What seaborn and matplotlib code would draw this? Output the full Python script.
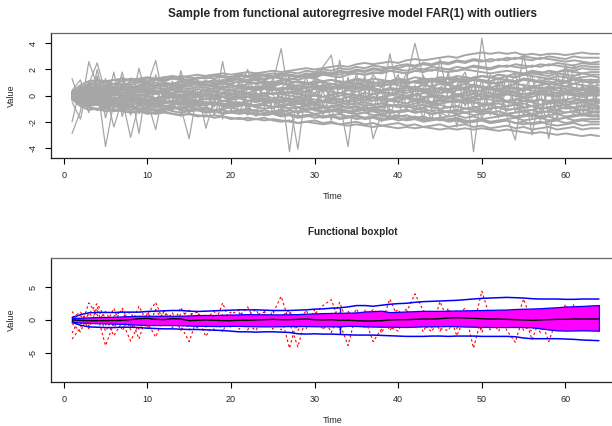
import numpy as np
import pandas as pd
import matplotlib
matplotlib.use("Agg")
import matplotlib.pyplot as plt
import seaborn as sns

TIME = list(range(1, 65))

# regular curves of the FAR(1) sample (values read/estimated from the picture)
C01 = [0.3,0.8,1.1,1.2,1.1,1.2,1.3,1.2,1.3,1.4,1.3,1.4,1.5,1.4,1.5,1.6,1.5,1.6,1.7,1.6,1.7,1.8,1.7,1.8,1.9,1.8,1.9,2.0,2.1,2.0,2.1,2.2,2.3,2.2,2.4,2.5,2.4,2.5,2.6,2.5,2.7,2.8,2.7,2.8,2.9,3.0,2.9,3.1,3.2,3.3,3.2,3.3,3.2,3.3,3.1,3.2,3.1,3.2,3.2,3.1,3.2,3.3,3.2,3.2]
C02 = [-0.3,-0.8,-1.1,-1.0,-1.2,-1.1,-1.2,-1.3,-1.2,-1.3,-1.4,-1.3,-1.4,-1.5,-1.4,-1.5,-1.6,-1.5,-1.6,-1.7,-1.8,-1.7,-1.8,-1.9,-1.8,-1.9,-2.0,-2.1,-2.0,-2.1,-2.2,-2.1,-2.2,-2.3,-2.2,-2.3,-2.4,-2.3,-2.4,-2.5,-2.4,-2.5,-2.4,-2.5,-2.6,-2.5,-2.6,-2.5,-2.6,-2.5,-2.6,-2.7,-2.6,-2.7,-2.8,-2.9,-2.8,-2.9,-3.0,-2.9,-3.0,-3.1,-3.0,-3.1]
C03 = [0.2,0.5,0.7,0.6,0.8,0.9,0.8,1.0,1.1,1.0,1.2,1.1,1.3,1.2,1.1,1.3,1.4,1.3,1.5,1.4,1.6,1.5,1.4,1.6,1.7,1.6,1.8,1.7,1.9,1.8,2.0,1.9,2.1,2.0,2.2,2.1,2.3,2.2,2.1,2.3,2.4,2.3,2.5,2.4,2.6,2.5,2.7,2.6,2.8,2.7,2.6,2.8,2.7,2.9,2.8,2.7,2.9,2.8,2.7,2.6,2.7,2.6,2.5,2.6]
C04 = [0.1,0.3,0.5,0.4,0.6,0.5,0.7,0.6,0.8,0.9,0.8,0.7,0.9,1.0,0.9,1.1,1.0,1.2,1.1,1.3,1.2,1.1,1.3,1.2,1.4,1.3,1.2,1.4,1.5,1.4,1.6,1.5,1.4,1.6,1.7,1.6,1.8,1.7,1.9,1.8,1.7,1.9,2.0,1.9,2.1,2.0,1.9,2.1,2.2,2.1,2.0,2.2,2.3,2.2,2.1,2.3,2.2,2.4,2.3,2.2,2.1,2.3,2.2,2.2]
C05 = [0.0,0.4,0.8,0.9,1.0,0.9,1.1,1.2,1.1,1.3,1.2,1.4,1.3,1.5,1.4,1.3,1.5,1.6,1.5,1.4,1.6,1.5,1.7,1.6,1.5,1.7,1.6,1.5,1.6,1.7,1.8,1.7,1.6,1.8,1.7,1.6,1.7,1.8,1.9,1.8,1.7,1.9,1.8,2.0,1.9,1.8,1.9,2.0,1.9,1.8,1.7,1.8,1.9,1.8,1.7,1.9,1.8,1.7,1.8,1.9,1.8,1.7,1.8,1.8]
C06 = [0.2,0.1,0.3,0.2,0.4,0.3,0.5,0.4,0.3,0.5,0.6,0.5,0.7,0.6,0.5,0.7,0.8,0.7,0.9,0.8,0.7,0.9,1.0,0.9,0.8,1.0,0.9,1.1,1.0,0.9,1.1,1.2,1.1,1.0,1.2,1.1,1.3,1.2,1.1,1.3,1.2,1.4,1.3,1.2,1.4,1.3,1.5,1.4,1.3,1.5,1.4,1.3,1.5,1.4,1.6,1.5,1.4,1.3,1.5,1.4,1.3,1.4,1.5,1.4]
C07 = [-0.1,0.3,0.6,0.8,0.7,0.9,0.8,0.6,0.7,0.9,1.0,0.8,0.9,1.1,1.2,1.0,1.1,0.9,1.0,1.2,1.3,1.1,1.2,1.0,0.9,1.1,1.3,1.2,1.4,1.3,1.1,1.2,1.0,1.1,1.3,1.2,1.0,0.9,1.1,1.2,1.0,1.1,1.3,1.2,1.4,1.3,1.1,1.0,1.2,1.1,0.9,1.0,1.2,1.1,1.3,1.2,1.0,1.1,0.9,1.0,1.2,1.1,1.0,1.1]
C08 = [0.1,-0.1,0.2,0.1,0.3,0.2,0.1,0.3,0.4,0.3,0.2,0.4,0.5,0.4,0.3,0.5,0.4,0.6,0.5,0.4,0.6,0.5,0.7,0.6,0.5,0.4,0.6,0.5,0.7,0.6,0.8,0.7,0.6,0.5,0.7,0.6,0.8,0.7,0.9,0.8,0.7,0.6,0.8,0.7,0.9,0.8,0.7,0.9,0.8,0.7,0.6,0.8,0.7,0.9,0.8,0.7,0.8,0.9,0.8,0.7,0.9,0.8,0.7,0.8]
C09 = [-0.2,-0.4,-0.5,-0.4,-0.6,-0.5,-0.4,-0.3,-0.5,-0.4,-0.2,-0.3,-0.1,-0.2,0.0,-0.1,0.1,0.0,-0.1,0.1,0.2,0.1,0.0,0.2,0.1,0.3,0.2,0.1,0.3,0.2,0.4,0.3,0.2,0.4,0.3,0.5,0.4,0.3,0.5,0.4,0.6,0.5,0.4,0.6,0.5,0.4,0.6,0.5,0.7,0.6,0.5,0.4,0.6,0.5,0.4,0.6,0.5,0.7,0.6,0.5,0.4,0.6,0.5,0.5]
C10 = [0.0,0.1,0.0,-0.1,0.1,0.0,0.2,0.1,0.0,0.1,0.3,0.2,0.1,0.0,0.2,0.1,0.0,-0.1,0.1,0.2,0.0,0.1,-0.1,0.0,0.2,0.1,0.3,0.2,0.0,0.1,-0.1,0.0,0.2,0.1,0.0,-0.1,0.1,0.2,0.1,0.3,0.2,0.4,0.3,0.2,0.4,0.3,0.1,0.2,0.4,0.3,0.2,0.1,0.3,0.2,0.1,0.2,0.4,0.3,0.2,0.3,0.4,0.2,0.3,0.3]
C11 = [-0.1,0.0,-0.2,-0.1,0.0,-0.2,-0.3,-0.2,-0.1,-0.3,-0.2,-0.1,0.0,-0.1,-0.2,0.0,0.1,0.0,-0.1,-0.2,0.0,-0.1,0.1,0.0,-0.2,-0.1,-0.3,-0.2,-0.1,0.0,-0.1,-0.2,0.0,0.1,0.0,-0.1,-0.2,-0.1,0.0,0.1,-0.1,0.0,0.2,0.1,0.0,-0.1,0.1,0.0,0.2,0.1,-0.1,0.0,0.1,0.0,-0.1,0.1,0.2,0.1,0.0,0.2,0.1,0.0,0.1,0.1]
C12 = [0.2,0.3,0.1,0.2,0.0,0.1,-0.1,0.0,0.1,-0.1,-0.2,0.0,-0.1,-0.3,-0.2,-0.1,-0.3,-0.2,-0.4,-0.3,-0.2,-0.4,-0.3,-0.5,-0.4,-0.3,-0.2,-0.4,-0.3,-0.5,-0.4,-0.3,-0.5,-0.4,-0.2,-0.3,-0.4,-0.2,-0.3,-0.1,-0.2,-0.4,-0.3,-0.5,-0.4,-0.2,-0.3,-0.4,-0.2,-0.3,-0.1,-0.2,-0.4,-0.3,-0.2,-0.4,-0.3,-0.5,-0.4,-0.3,-0.2,-0.4,-0.3,-0.3]
C13 = [0.3,0.5,0.4,0.6,0.5,0.4,0.5,0.3,0.4,0.2,0.3,0.1,0.2,0.0,0.1,-0.1,0.0,-0.2,-0.1,-0.3,-0.2,-0.4,-0.3,-0.2,-0.4,-0.3,-0.5,-0.4,-0.6,-0.5,-0.4,-0.6,-0.5,-0.7,-0.6,-0.5,-0.7,-0.6,-0.4,-0.5,-0.6,-0.4,-0.5,-0.7,-0.6,-0.5,-0.4,-0.6,-0.5,-0.7,-0.6,-0.4,-0.5,-0.6,-0.4,-0.5,-0.7,-0.6,-0.5,-0.4,-0.6,-0.5,-0.4,-0.5]
C14 = [-0.1,-0.3,-0.2,-0.4,-0.3,-0.5,-0.4,-0.3,-0.5,-0.6,-0.5,-0.4,-0.6,-0.5,-0.7,-0.6,-0.5,-0.7,-0.6,-0.8,-0.7,-0.6,-0.8,-0.7,-0.9,-0.8,-0.7,-0.6,-0.8,-0.7,-0.9,-0.8,-0.7,-0.9,-0.8,-1.0,-0.9,-0.8,-0.7,-0.9,-0.8,-1.0,-0.9,-0.8,-0.7,-0.9,-0.8,-1.0,-0.9,-0.8,-0.7,-0.9,-0.8,-0.7,-0.9,-0.8,-1.0,-0.9,-0.8,-0.7,-0.9,-0.8,-0.7,-0.8]
C15 = [-0.2,-0.6,-0.9,-1.0,-0.9,-1.1,-1.0,-0.9,-1.1,-1.0,-1.2,-1.1,-1.0,-0.9,-1.1,-1.0,-1.2,-1.1,-1.3,-1.2,-1.1,-1.0,-1.2,-1.1,-1.3,-1.2,-1.1,-1.3,-1.2,-1.4,-1.3,-1.2,-1.1,-1.3,-1.2,-1.1,-1.0,-1.2,-1.1,-1.3,-1.2,-1.1,-1.0,-1.2,-1.1,-1.3,-1.2,-1.0,-1.1,-1.2,-1.0,-0.9,-1.1,-1.0,-1.2,-1.1,-0.9,-1.0,-1.1,-0.9,-1.0,-1.1,-1.0,-1.0]
C16 = [0.0,-0.2,-0.1,-0.3,-0.2,-0.4,-0.3,-0.5,-0.4,-0.6,-0.5,-0.4,-0.6,-0.7,-0.6,-0.8,-0.7,-0.6,-0.8,-0.9,-0.8,-0.7,-0.9,-1.0,-0.9,-0.8,-1.0,-0.9,-1.1,-1.0,-0.9,-1.1,-1.0,-1.2,-1.1,-1.0,-1.2,-1.1,-1.3,-1.2,-1.1,-1.3,-1.2,-1.4,-1.3,-1.2,-1.4,-1.3,-1.2,-1.4,-1.3,-1.5,-1.4,-1.3,-1.2,-1.4,-1.3,-1.2,-1.4,-1.3,-1.2,-1.4,-1.3,-1.3]
C17 = [-0.3,-0.5,-0.7,-0.6,-0.8,-0.7,-0.9,-0.8,-1.0,-0.9,-1.1,-1.0,-0.9,-1.1,-1.2,-1.1,-1.3,-1.2,-1.1,-1.3,-1.4,-1.3,-1.5,-1.4,-1.3,-1.5,-1.4,-1.6,-1.5,-1.4,-1.6,-1.5,-1.4,-1.6,-1.5,-1.7,-1.6,-1.5,-1.7,-1.6,-1.5,-1.7,-1.6,-1.8,-1.7,-1.6,-1.5,-1.7,-1.6,-1.8,-1.7,-1.6,-1.5,-1.7,-1.6,-1.5,-1.7,-1.6,-1.8,-1.7,-1.6,-1.5,-1.6,-1.6]
C18 = [0.1,-0.2,-0.4,-0.3,-0.5,-0.4,-0.6,-0.7,-0.6,-0.8,-0.7,-0.9,-0.8,-1.0,-0.9,-1.1,-1.0,-1.2,-1.1,-1.3,-1.2,-1.4,-1.3,-1.5,-1.4,-1.6,-1.5,-1.7,-1.6,-1.5,-1.7,-1.6,-1.8,-1.7,-1.6,-1.8,-1.7,-1.9,-1.8,-1.7,-1.9,-1.8,-2.0,-1.9,-1.8,-2.0,-1.9,-2.1,-2.0,-1.9,-2.1,-2.0,-1.9,-2.1,-2.0,-2.2,-2.1,-2.0,-1.9,-2.1,-2.0,-1.9,-2.0,-2.0]
C19 = [-0.2,-0.6,-0.9,-1.1,-1.0,-1.2,-1.1,-1.3,-1.2,-1.4,-1.3,-1.2,-1.4,-1.5,-1.4,-1.6,-1.5,-1.7,-1.6,-1.8,-1.7,-1.9,-1.8,-1.7,-1.9,-2.0,-1.9,-2.1,-2.0,-1.9,-2.1,-2.0,-2.2,-2.1,-2.0,-2.2,-2.1,-2.3,-2.2,-2.1,-2.3,-2.2,-2.4,-2.3,-2.2,-2.4,-2.3,-2.2,-2.4,-2.3,-2.5,-2.4,-2.3,-2.5,-2.4,-2.6,-2.5,-2.4,-2.6,-2.5,-2.4,-2.6,-2.5,-2.5]
C20 = [0.2,-0.1,-0.3,-0.5,-0.4,-0.6,-0.5,-0.7,-0.6,-0.5,-0.7,-0.6,-0.4,-0.5,-0.3,-0.4,-0.2,-0.3,-0.1,-0.2,0.0,0.1,0.0,0.2,0.1,0.3,0.2,0.4,0.3,0.5,0.4,0.6,0.5,0.7,0.6,0.8,0.7,0.9,0.8,1.0,0.9,1.1,1.0,1.2,1.1,1.3,1.2,1.4,1.3,1.5,1.4,1.6,1.5,1.7,1.6,1.8,1.7,1.9,1.8,2.0,1.9,2.1,2.0,2.0]
C21 = [0.1,0.3,0.5,0.7,0.8,0.7,0.9,0.8,1.0,0.9,0.8,1.0,0.9,0.8,0.7,0.9,0.8,0.7,0.6,0.8,0.7,0.6,0.5,0.7,0.6,0.5,0.7,0.8,0.7,0.6,0.5,0.7,0.6,0.8,0.7,0.6,0.5,0.4,0.6,0.5,0.7,0.6,0.5,0.4,0.6,0.5,0.7,0.6,0.8,0.7,0.6,0.5,0.7,0.6,0.5,0.7,0.6,0.5,0.6,0.7,0.6,0.5,0.6,0.6]
C22 = [-0.2,-0.1,-0.3,-0.2,-0.4,-0.6,-0.5,-0.7,-0.6,-0.8,-0.7,-0.6,-0.4,-0.5,-0.3,-0.4,-0.2,-0.3,-0.1,-0.2,0.0,-0.1,-0.2,-0.4,-0.3,-0.5,-0.4,-0.6,-0.7,-0.6,-0.8,-0.9,-0.8,-1.0,-0.9,-1.1,-1.0,-0.9,-0.8,-0.7,-0.8,-0.6,-0.5,-0.6,-0.4,-0.5,-0.3,-0.4,-0.5,-0.6,-0.7,-0.6,-0.8,-0.7,-0.6,-0.8,-0.7,-0.6,-0.5,-0.7,-0.6,-0.5,-0.6,-0.6]
C23 = [0.0,0.1,-0.1,0.0,0.1,0.0,0.2,0.1,0.3,0.2,0.1,0.3,0.2,0.4,0.3,0.2,0.4,0.3,0.5,0.4,0.3,0.5,0.4,0.6,0.5,0.4,0.6,0.7,0.6,0.8,0.7,0.9,0.8,0.7,0.9,1.0,0.9,1.1,1.0,1.2,1.1,1.0,1.2,1.3,1.2,1.4,1.3,1.2,1.4,1.5,1.4,1.6,1.5,1.4,1.6,1.7,1.6,1.5,1.7,1.6,1.5,1.7,1.6,1.6]
C24 = [0.1,0.0,-0.2,-0.1,-0.3,-0.2,-0.1,-0.3,-0.2,-0.4,-0.3,-0.5,-0.4,-0.3,-0.5,-0.4,-0.6,-0.5,-0.7,-0.6,-0.5,-0.7,-0.8,-0.7,-0.9,-0.8,-1.0,-0.9,-1.1,-1.0,-1.2,-1.1,-1.3,-1.2,-1.4,-1.3,-1.5,-1.4,-1.6,-1.5,-1.7,-1.6,-1.8,-1.7,-1.9,-1.8,-1.7,-1.9,-2.0,-1.9,-2.1,-2.0,-1.9,-2.1,-2.2,-2.1,-2.0,-2.2,-2.3,-2.2,-2.1,-2.3,-2.2,-2.2]
C25 = [0.2,0.4,0.6,0.5,0.7,0.6,0.5,0.7,0.6,0.8,0.7,0.9,0.8,0.7,0.9,1.0,0.9,0.8,1.0,0.9,1.1,1.0,0.9,1.1,1.0,1.2,1.1,1.0,0.9,1.1,1.0,0.9,0.8,1.0,0.9,1.1,1.0,0.9,1.1,1.2,1.1,1.0,0.9,1.1,1.0,0.9,1.1,1.0,1.2,1.1,1.0,0.9,1.1,1.0,1.2,1.1,1.0,0.9,1.1,1.0,0.9,1.1,1.0,1.0]
C26 = [-0.1,-0.4,-0.6,-0.5,-0.7,-0.6,-0.8,-0.7,-0.6,-0.8,-0.9,-0.8,-1.0,-0.9,-0.8,-1.0,-0.9,-1.1,-1.0,-0.9,-1.1,-1.2,-1.1,-1.3,-1.2,-1.1,-1.3,-1.2,-1.0,-1.1,-1.3,-1.2,-1.1,-1.3,-1.4,-1.3,-1.2,-1.4,-1.3,-1.2,-1.1,-1.3,-1.2,-1.4,-1.3,-1.2,-1.1,-1.3,-1.2,-1.1,-1.3,-1.2,-1.4,-1.3,-1.2,-1.1,-1.3,-1.2,-1.1,-1.3,-1.2,-1.1,-1.2,-1.2]
C27 = [0.1,0.2,0.3,0.2,0.4,0.3,0.2,0.4,0.3,0.5,0.4,0.3,0.5,0.4,0.3,0.2,0.4,0.3,0.2,0.1,0.3,0.2,0.1,0.0,0.2,0.1,0.0,-0.1,0.1,0.0,-0.1,0.1,0.2,0.1,0.0,0.2,0.1,0.3,0.2,0.1,0.0,0.1,-0.1,0.0,-0.2,-0.1,0.0,-0.2,-0.1,0.1,0.0,-0.1,0.1,0.0,-0.2,-0.1,0.1,0.0,-0.1,0.1,0.0,-0.1,0.0,0.0]
C28 = [0.1,0.2,0.4,0.3,0.5,0.4,0.6,0.5,0.7,0.6,0.8,0.7,0.9,0.8,1.0,0.9,1.1,1.0,1.2,1.1,1.3,1.2,1.4,1.3,1.5,1.4,1.6,1.5,1.7,1.6,1.8,1.7,1.9,1.8,2.0,1.9,2.1,2.0,2.2,2.1,2.3,2.2,2.4,2.3,2.5,2.4,2.6,2.5,2.7,2.6,2.8,2.7,2.9,2.8,3.0,2.9,2.8,3.0,2.9,2.8,3.0,2.9,2.9,2.9]
C29 = [-0.3,-0.6,-0.8,-0.7,-0.9,-0.8,-0.7,-0.9,-0.8,-0.7,-0.6,-0.8,-0.7,-0.6,-0.8,-0.7,-0.5,-0.6,-0.4,-0.5,-0.6,-0.4,-0.5,-0.3,-0.4,-0.5,-0.3,-0.4,-0.2,-0.3,-0.4,-0.2,-0.3,-0.1,-0.2,-0.3,-0.1,-0.2,-0.3,-0.4,-0.2,-0.3,-0.4,-0.5,-0.3,-0.4,-0.5,-0.3,-0.4,-0.2,-0.3,-0.4,-0.5,-0.3,-0.4,-0.5,-0.3,-0.4,-0.3,-0.5,-0.4,-0.3,-0.4,-0.4]
C30 = [0.0,-0.1,0.1,0.0,0.2,0.1,0.0,-0.1,0.1,0.0,-0.2,-0.1,0.0,0.1,0.0,0.2,0.1,0.3,0.2,0.4,0.3,0.2,0.4,0.5,0.4,0.6,0.5,0.4,0.6,0.7,0.6,0.5,0.7,0.6,0.5,0.7,0.6,0.4,0.5,0.3,0.4,0.5,0.3,0.4,0.2,0.3,0.4,0.5,0.3,0.4,0.5,0.3,0.4,0.3,0.5,0.4,0.3,0.5,0.4,0.3,0.5,0.4,0.4,0.4]
C31 = [0.0,-0.3,-0.5,-0.7,-0.9,-0.8,-1.0,-1.1,-1.0,-1.2,-1.1,-1.0,-1.2,-1.3,-1.2,-1.1,-1.3,-1.2,-1.4,-1.3,-1.2,-1.4,-1.3,-1.5,-1.4,-1.3,-1.5,-1.6,-1.5,-1.7,-1.6,-1.5,-1.7,-1.6,-1.8,-1.7,-1.6,-1.8,-1.7,-1.9,-1.8,-1.7,-1.9,-1.8,-1.7,-1.9,-1.8,-2.0,-1.9,-1.8,-2.0,-1.9,-1.8,-1.7,-1.9,-1.8,-1.7,-1.9,-1.8,-1.7,-1.9,-1.8,-1.8,-1.8]
C32 = [0.2,0.6,0.9,1.1,1.0,1.2,1.1,1.3,1.2,1.1,1.3,1.2,1.4,1.3,1.2,1.4,1.3,1.5,1.4,1.3,1.5,1.4,1.6,1.5,1.4,1.6,1.5,1.4,1.6,1.5,1.7,1.6,1.8,1.7,1.9,1.8,2.0,1.9,2.1,2.0,1.9,2.1,2.0,2.2,2.1,2.0,2.2,2.1,2.3,2.2,2.1,2.3,2.2,2.4,2.3,2.2,2.4,2.3,2.5,2.4,2.3,2.5,2.4,2.4]
C33 = [0.3,0.4,0.6,0.5,0.7,0.6,0.5,0.4,0.6,0.5,0.4,0.3,0.2,0.3,0.1,0.2,0.0,0.1,-0.1,0.0,-0.2,-0.1,-0.3,-0.2,-0.4,-0.3,-0.2,-0.4,-0.3,-0.5,-0.4,-0.6,-0.5,-0.7,-0.6,-0.8,-0.7,-0.6,-0.8,-0.7,-0.9,-0.8,-0.7,-0.9,-1.0,-0.9,-0.8,-1.0,-0.9,-1.1,-1.0,-0.9,-1.1,-1.0,-0.9,-0.8,-1.0,-0.9,-0.8,-1.0,-0.9,-0.8,-0.9,-0.9]
C34 = [-0.1,0.0,0.2,0.1,0.3,0.2,0.4,0.3,0.5,0.4,0.3,0.5,0.4,0.6,0.5,0.7,0.6,0.5,0.7,0.6,0.8,0.7,0.6,0.8,0.7,0.9,0.8,0.7,0.9,0.8,0.7,0.9,0.8,1.0,0.9,0.8,1.0,0.9,1.1,1.0,0.9,1.1,1.0,1.2,1.1,1.0,1.2,1.1,1.3,1.2,1.1,1.3,1.2,1.1,1.3,1.2,1.1,1.3,1.2,1.1,1.3,1.2,1.2,1.2]
C35 = [0.2,0.0,-0.2,-0.1,-0.3,-0.2,-0.4,-0.3,-0.5,-0.4,-0.3,-0.5,-0.4,-0.6,-0.5,-0.4,-0.6,-0.7,-0.6,-0.8,-0.7,-0.6,-0.8,-0.7,-0.9,-0.8,-0.7,-0.9,-0.8,-1.0,-0.9,-1.1,-1.0,-1.2,-1.1,-1.0,-1.2,-1.1,-1.3,-1.2,-1.1,-1.3,-1.2,-1.4,-1.3,-1.2,-1.4,-1.3,-1.5,-1.4,-1.3,-1.5,-1.4,-1.6,-1.5,-1.4,-1.6,-1.5,-1.4,-1.6,-1.5,-1.4,-1.5,-1.5]
C36 = [-0.1,0.1,0.0,-0.2,-0.1,-0.3,-0.2,-0.4,-0.3,-0.5,-0.4,-0.6,-0.5,-0.7,-0.6,-0.5,-0.7,-0.6,-0.8,-0.7,-0.6,-0.8,-0.7,-0.6,-0.5,-0.7,-0.6,-0.5,-0.4,-0.6,-0.5,-0.4,-0.3,-0.5,-0.4,-0.3,-0.2,-0.4,-0.3,-0.2,-0.1,-0.3,-0.2,-0.1,0.0,-0.2,-0.1,0.0,0.1,-0.1,0.0,0.1,0.2,0.0,0.1,0.2,0.3,0.1,0.2,0.3,0.2,0.1,0.2,0.2]

# outlying curves (spiky ones, red dashed in the boxplot)
O1 = [-2.9,-1.2,2.6,0.8,-3.9,-0.5,1.8,-0.9,2.1,-0.4,-2.6,0.6,-0.8,1.9,-0.3,-1.2,0.4,-0.9,2.6,-0.6,0.9,-1.1,0.3,-0.8,1.0,3.6,-0.4,-4.1,0.6,-0.9,1.1,-0.6,2.7,-0.8,0.9,-1.3,0.4,-0.5,3.2,0.2,-1.1,0.8,-0.7,-1.8,0.6,1.4,-2.4,0.5,-1.0,4.4,0.3,-1.7,0.8,-0.6,3.2,-0.4,-1.9,0.7,-0.8,2.4,0.1,-1.2,0.6,-0.5]
O2 = [1.3,-0.6,0.9,2.5,0.2,-2.4,-0.3,-3.2,-0.6,0.8,2.7,-0.5,0.7,-0.9,-3.3,0.4,-2.5,-0.3,0.8,-1.2,0.5,2.0,-0.4,0.9,-1.0,0.6,-4.3,0.5,-0.8,0.9,2.2,3.1,-0.5,-3.9,1.1,0.3,-3.3,-1.4,0.7,-0.6,1.2,4.0,1.4,-1.2,2.8,-0.3,0.5,1.3,-4.3,0.6,-1.1,0.9,-1.6,-3.4,0.9,-3.0,0.4,-3.3,0.3,-1.0,2.4,1.1,-1.5,0.4]
O3 = [-2.0,0.7,-1.3,2.0,-0.8,1.8,-1.6,0.5,-2.9,1.1,-0.6,1.3,-1.2,0.4,1.5,-0.8,0.9,-1.5,0.3,1.2,-1.4,0.6,1.6,-0.9,1.4,-1.1,0.8,-0.7,1.5,-1.2,0.4,-1.9,1.0,-0.7,1.7,-0.9,1.2,-2.0,0.6,1.6,-0.9,0.5,-1.8,1.0,-0.4,1.8,-1.3,0.7,1.4,-1.9,0.8,-0.6,1.5,-1.2,0.4,1.6,-1.4,0.9,-1.8,0.5,1.6,-0.9,1.3,-1.1]
O4 = [0.4,1.2,-0.9,1.5,-1.7,0.6,1.4,-1.5,0.7,-1.3,1.6,-0.4,1.1,-1.6,0.8,1.2,-1.1,0.6,-1.8,0.9,1.5,-0.7,-1.6,1.3,0.2,-1.5,1.1,0.6,-1.3,1.6,-0.8,0.7,-1.5,1.2,-0.5,1.5,-1.1,0.9,-1.6,0.4,1.7,-1.2,0.6,1.3,-1.7,0.3,1.5,-0.8,0.9,-1.4,1.6,0.5,-1.2,1.1,-1.6,0.7,1.4,-1.5,1.7,-0.6,-1.5,0.8,-0.9,1.4]
O5 = [-0.5,-1.8,1.1,-0.4,1.3,-1.1,0.4,1.2,-1.4,0.3,-1.0,1.4,-0.3,0.9,-1.5,1.0,0.2,1.3,-1.0,-0.2,1.1,-1.5,0.8,1.2,-1.4,0.5,1.5,-1.6,0.3,1.0,-1.5,0.6,-1.2,1.4,-1.0,0.2,1.6,0.8,-1.1,-1.7,0.9,-0.4,1.5,0.2,-1.3,-1.6,0.8,1.8,-0.7,1.2,-1.5,1.4,0.2,1.7,-1.0,-1.7,0.9,1.1,-1.4,1.8,-0.3,-1.6,0.9,-1.8]

# functional boxplot pieces
ENV_HI = [0.35,0.8,1.1,1.15,1.15,1.15,1.2,1.2,1.2,1.3,1.35,1.4,1.45,1.45,1.35,1.3,1.35,1.4,1.45,1.5,1.55,1.55,1.55,1.5,1.45,1.45,1.45,1.5,1.55,1.65,1.7,1.8,1.85,2.0,2.2,2.2,2.1,2.25,2.4,2.5,2.55,2.7,2.8,2.85,2.9,2.95,3.0,3.1,3.2,3.3,3.35,3.4,3.45,3.4,3.35,3.25,3.2,3.2,3.2,3.15,3.15,3.2,3.2,3.2]
ENV_LO = [-0.35,-0.8,-1.05,-1.1,-1.15,-1.15,-1.1,-1.1,-1.15,-1.25,-1.3,-1.35,-1.35,-1.4,-1.45,-1.45,-1.5,-1.55,-1.6,-1.7,-1.8,-1.8,-1.85,-1.8,-1.8,-1.85,-1.9,-2.1,-2.15,-2.1,-2.15,-2.15,-2.2,-2.25,-2.3,-2.3,-2.3,-2.35,-2.4,-2.45,-2.5,-2.5,-2.5,-2.45,-2.45,-2.5,-2.45,-2.45,-2.45,-2.5,-2.5,-2.5,-2.5,-2.55,-2.75,-2.85,-2.85,-2.85,-2.85,-2.9,-2.95,-3.05,-3.1,-3.15]
BAND_HI = [0.3,0.35,0.4,0.45,0.45,0.5,0.55,0.6,0.65,0.65,0.65,0.65,0.65,0.65,0.7,0.75,0.76,0.76,0.8,0.82,0.86,0.9,0.88,0.86,0.86,0.86,0.88,0.9,0.96,1.0,1.05,1.08,1.1,1.12,1.15,1.3,1.35,1.42,1.2,1.25,1.3,1.35,1.4,1.4,1.4,1.42,1.45,1.47,1.5,1.52,1.55,1.58,1.6,1.68,1.72,1.75,1.8,1.88,1.95,2.05,2.1,2.15,2.22,2.28]
BAND_LO = [-0.3,-0.38,-0.45,-0.5,-0.5,-0.55,-0.6,-0.66,-0.72,-0.77,-0.77,-0.77,-0.78,-0.8,-0.85,-0.88,-0.9,-0.92,-0.92,-0.9,-0.9,-0.93,-0.96,-0.97,-0.97,-0.95,-0.93,-0.93,-0.93,-0.95,-0.97,-0.97,-0.97,-0.9,-0.92,-0.97,-1.0,-1.02,-1.02,-1.05,-1.07,-1.02,-0.97,-0.97,-0.95,-0.92,-0.95,-1.0,-1.02,-1.05,-1.07,-1.07,-1.07,-1.07,-1.07,-1.12,-1.27,-1.45,-1.58,-1.62,-1.6,-1.58,-1.6,-1.63]
MEDIAN = [0.0,-0.05,-0.1,-0.1,-0.1,-0.08,-0.05,0.05,0.2,0.25,0.1,0.05,0.2,0.15,-0.1,-0.05,0.0,-0.05,-0.1,-0.1,-0.05,-0.05,0.0,0.05,0.1,0.05,0.05,0.1,0.15,0.05,0.0,0.05,-0.05,-0.05,-0.1,-0.15,-0.15,-0.1,0.0,0.05,0.05,0.1,0.15,0.15,0.2,0.3,0.35,0.3,0.25,0.2,0.15,0.15,0.1,0.05,0.0,-0.05,0.0,0.05,0.1,0.1,0.15,0.15,0.15,0.15]
MID_TIME = 33

X_TICKS = [0, 10, 20, 30, 40, 50, 60]
TOP_Y_TICKS = [-4, -2, 0, 2, 4]
BOT_Y_TICKS = [-5, 0, 5]

normal_curves = [C01, C02, C03, C04, C05, C06, C07, C08, C09, C10, C11, C12,
                 C13, C14, C15, C16, C17, C18, C19, C20, C21, C22, C23, C24,
                 C25, C26, C27, C28, C29, C30, C31, C32, C33, C34, C35, C36]
outlier_curves = [O1, O2, O3, O4, O5]
for c in normal_curves + outlier_curves + [ENV_HI, ENV_LO, BAND_HI, BAND_LO, MEDIAN]:
    assert len(c) == len(TIME), len(c)


def to_long(curves, prefix):
    rows = []
    for i, vals in enumerate(curves):
        for t, v in zip(TIME, vals):
            rows.append((f"{prefix}{i}", t, v))
    return pd.DataFrame(rows, columns=["curve", "Time", "Value"])


norm_df = to_long(normal_curves, "c")
out_df = to_long(outlier_curves, "o")

sns.set_style("white")
plt.rcParams["font.family"] = ["Liberation Sans", "DejaVu Sans"]

W, H = 612, 426
fig = plt.figure(figsize=(W / 100, H / 100), dpi=100)
fig.patch.set_facecolor("white")

# axes boxes in pixels (the right part is cut off in the source picture)
ax_left, ax_w, ax_h = 51, 569, 124.6
ax1 = fig.add_axes([ax_left / W, 1 - (33.3 + ax_h) / H, ax_w / W, ax_h / H])
ax2 = fig.add_axes([ax_left / W, 1 - (257.7 + ax_h) / H, ax_w / W, ax_h / H])

gray = "#a6a6a6"
sns.lineplot(data=out_df, x="Time", y="Value", units="curve", estimator=None,
             color=gray, lw=0.9, ax=ax1)
sns.lineplot(data=norm_df, x="Time", y="Value", units="curve", estimator=None,
             color=gray, lw=1.4, ax=ax1)

# functional boxplot
sns.lineplot(data=out_df, x="Time", y="Value", units="curve", estimator=None,
             color="red", lw=0.8, ls=(0, (2.2, 2.2)), ax=ax2)
ax2.fill_between(TIME, BAND_LO, BAND_HI, facecolor="#ff00ff", edgecolor="blue",
                 lw=0.9, zorder=3)
sns.lineplot(x=TIME, y=ENV_HI, color="blue", lw=1.1, ax=ax2, zorder=4)
sns.lineplot(x=TIME, y=ENV_LO, color="blue", lw=1.1, ax=ax2, zorder=4)
k = TIME.index(MID_TIME)
ax2.vlines([MID_TIME, MID_TIME], [BAND_HI[k], ENV_LO[k]], [ENV_HI[k], BAND_LO[k]],
           color="blue", lw=1.0, zorder=4)
sns.lineplot(x=TIME, y=MEDIAN, color="black", lw=1.0, ax=ax2, zorder=5)

fs = 6.5
for ax, yt, ylim in [(ax1, TOP_Y_TICKS, (-4.77, 4.77)), (ax2, BOT_Y_TICKS, (-9.5, 9.5))]:
    ax.set_xlim(-1.52, 66.52)
    ax.set_ylim(*ylim)
    ax.set_xticks(X_TICKS)
    ax.set_yticks(yt)
    ax.set_yticklabels([str(v) for v in yt], rotation=90, va="center")
    ax.tick_params(axis="both", direction="out", length=4.3, width=0.8, color="black",
                   labelsize=fs, pad=5.2, bottom=True, left=True)
    ax.set_xlabel("Time", fontsize=fs)
    ax.set_ylabel("Value", fontsize=fs)
    ax.xaxis.set_label_coords(0.5 * 568 / ax_w - 0.005, -0.27)
    ax.yaxis.set_label_coords(-0.061, 0.5)
    for side in ["left", "bottom"]:
        ax.spines[side].set_color("#222222")
        ax.spines[side].set_linewidth(0.9)
    for side in ["top", "right"]:
        ax.spines[side].set_color("#666666")
        ax.spines[side].set_linewidth(0.9)
    ax.grid(False)

fig.text(353 / W, 1 - 13.5 / H, "Sample from functional autoregrresive model FAR(1) with outliers",
         ha="center", va="center", fontsize=8.5, fontweight="bold")
fig.text(353 / W, 1 - 232 / H, "Functional boxplot",
         ha="center", va="center", fontsize=7.2, fontweight="bold")

fig.savefig("out.png", dpi=100)
